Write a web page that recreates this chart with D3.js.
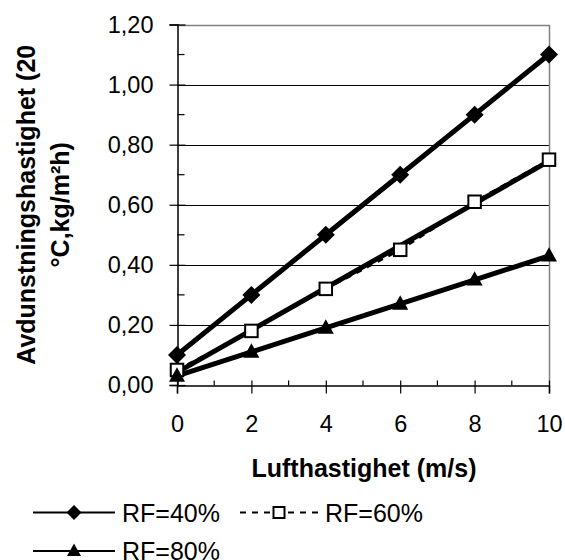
<!DOCTYPE html>
<html>
<head>
<meta charset="utf-8">
<script src="https://cdn.jsdelivr.net/npm/d3@7/dist/d3.min.js"></script>
<style>
  html, body { margin: 0; padding: 0; background: #fff; }
  svg { display: block; font-family: "Liberation Sans", Arial, sans-serif; }
</style>
</head>
<body>
<svg id="chart" width="565" height="560"></svg>
<script>
// ---- data ----
const xValues = [0, 2, 4, 6, 8, 10];
const rf40 = [0.10, 0.30, 0.50, 0.70, 0.90, 1.10];
const rf60 = [0.05, 0.18, 0.32, 0.45, 0.61, 0.75];
const rf80 = [0.03, 0.11, 0.19, 0.27, 0.35, 0.43];
const rf60TrendX = [0, 10];
const rf60TrendY = [0.042, 0.745];
const xTicks = [0, 2, 4, 6, 8, 10];
const yTicks = [0, 0.2, 0.4, 0.6, 0.8, 1.0, 1.2];
const seriesNames = ["RF=40%", "RF=60%", "RF=80%"];
const xTitle = "Lufthastighet (m/s)";
const yTitle1 = "Avdunstningshastighet (20";
const yTitle2 = "°C,kg/m²h)";

const svg = d3.select("#chart");
const x = d3.scaleLinear().domain([0, 10]).range([177, 549]);
const y = d3.scaleLinear().domain([0, 1.2]).range([385, 24.5]);
const fmt = v => d3.format(".2f")(v).replace(".", ",");

// gridlines
svg.append("g").selectAll("line").data(yTicks.filter(v => v > 0 && v < 1.2)).join("line")
  .attr("x1", x(0)).attr("x2", x(10))
  .attr("y1", d => Math.round(y(d)) + 0.5).attr("y2", d => Math.round(y(d)) + 0.5)
  .attr("stroke", "#000").attr("stroke-width", 1);

// plot border top/right (gray)
svg.append("path")
  .attr("d", `M${x(0)},${Math.round(y(1.2)) + 0.5}H${Math.round(x(10)) + 0.5}V${y(0)}`)
  .attr("fill", "none").attr("stroke", "#808080").attr("stroke-width", 1.5);

// y axis
const yAxis = svg.append("g").attr("transform", `translate(${Math.round(x(0)) + 0.5},0)`);
yAxis.call(d3.axisLeft(y).tickValues(yTicks).tickFormat(fmt).tickSize(8).tickPadding(16));
yAxis.select(".domain").attr("stroke", "#000").attr("stroke-width", 1.5);
yAxis.selectAll(".tick line").attr("x2", -8).attr("x1", 8).attr("stroke-width", 1.2);
yAxis.selectAll(".tick text").attr("font-size", 23.5).attr("fill", "#000")
  .attr("font-family", "Liberation Sans, Arial, sans-serif");
// minor y ticks
yAxis.append("g").selectAll("line").data(d3.range(0.1, 1.2, 0.2)).join("line")
  .attr("x1", 0).attr("x2", 7).attr("y1", d => y(d)).attr("y2", d => y(d))
  .attr("stroke", "#000").attr("stroke-width", 1.2);

// x axis
const xAxis = svg.append("g").attr("transform", `translate(0,${Math.round(y(0)) + 0.5})`);
xAxis.call(d3.axisBottom(x).tickValues(xTicks).tickFormat(d3.format("d")).tickSize(8).tickPadding(22));
xAxis.select(".domain").attr("stroke", "#000").attr("stroke-width", 1.5);
xAxis.selectAll(".tick line").attr("y1", -5).attr("y2", 8).attr("stroke-width", 1.2);
xAxis.selectAll(".tick text").attr("font-size", 23.5).attr("fill", "#000")
  .attr("font-family", "Liberation Sans, Arial, sans-serif");
xAxis.append("g").selectAll("line").data([1, 3, 5, 7, 9]).join("line")
  .attr("x1", d => x(d)).attr("x2", d => x(d)).attr("y1", -5).attr("y2", 0)
  .attr("stroke", "#000").attr("stroke-width", 1.2);

// lines
const line = d3.line().x(d => x(d[0])).y(d => y(d[1]));
const zip = (xs, ys) => xs.map((v, i) => [v, ys[i]]);

svg.append("path").attr("d", line(zip(rf60TrendX, rf60TrendY)))
  .attr("fill", "none").attr("stroke", "#000").attr("stroke-width", 5);
svg.append("path").attr("d", line(zip(xValues, rf60)))
  .attr("fill", "none").attr("stroke", "#000").attr("stroke-width", 2.5)
  .attr("stroke-dasharray", "6,6");
svg.append("path").attr("d", line(zip(xValues, rf40)))
  .attr("fill", "none").attr("stroke", "#000").attr("stroke-width", 5);
svg.append("path").attr("d", line(zip(xValues, rf80)))
  .attr("fill", "none").attr("stroke", "#000").attr("stroke-width", 5);

// markers
function diamond(g, cx, cy, r) {
  g.append("path").attr("d", `M${cx},${cy - r}L${cx + r},${cy}L${cx},${cy + r}L${cx - r},${cy}Z`)
    .attr("fill", "#000");
}
function square(g, cx, cy, s) {
  g.append("rect").attr("x", cx - s / 2).attr("y", cy - s / 2).attr("width", s).attr("height", s)
    .attr("fill", "#fff").attr("stroke", "#000").attr("stroke-width", 2);
}
function triangle(g, cx, cy, s) {
  const h = s * 0.9;
  g.append("path").attr("d", `M${cx},${cy - h * 0.6}L${cx + s / 2},${cy + h * 0.4}L${cx - s / 2},${cy + h * 0.4}Z`)
    .attr("fill", "#000");
}
const mk = svg.append("g");
xValues.forEach((v, i) => diamond(mk, x(v), y(rf40[i]), 9));
xValues.forEach((v, i) => square(mk, x(v), y(rf60[i]), 12.5));
xValues.forEach((v, i) => triangle(mk, x(v), y(rf80[i]), 16));

// axis titles
svg.append("text").attr("x", 364).attr("y", 477).attr("text-anchor", "middle")
  .attr("font-size", 25).attr("font-weight", "bold").text(xTitle);
const yc = (y(0) + y(1.2)) / 2;
svg.append("text").attr("transform", `translate(35,${yc}) rotate(-90)`).attr("text-anchor", "middle")
  .attr("font-size", 25).attr("font-weight", "bold").text(yTitle1);
svg.append("text").attr("transform", `translate(69,${yc}) rotate(-90)`).attr("text-anchor", "middle")
  .attr("font-size", 25).attr("font-weight", "bold").text(yTitle2);

// legend
const lg = svg.append("g");
const legendItems = [
  { name: seriesNames[0], x0: 33, x1: 115, y: 512.5, dash: null, marker: "diamond" },
  { name: seriesNames[1], x0: 240, x1: 318, y: 512.5, dash: "6,6", marker: "square" },
  { name: seriesNames[2], x0: 33, x1: 115, y: 551, dash: null, marker: "triangle" }
];
legendItems.forEach(it => {
  lg.append("line").attr("x1", it.x0).attr("x2", it.x1).attr("y1", it.y).attr("y2", it.y)
    .attr("stroke", "#000").attr("stroke-width", 2).attr("stroke-dasharray", it.dash);
  const cx = (it.x0 + it.x1) / 2;
  if (it.marker === "diamond") diamond(lg, cx, it.y, 7.5);
  if (it.marker === "square") square(lg, cx, it.y, 11);
  if (it.marker === "triangle") triangle(lg, cx, it.y, 14);
  lg.append("text").attr("x", it.x1 + 7).attr("y", it.y + 9).attr("font-size", 25).text(it.name);
});
</script>
</body>
</html>
